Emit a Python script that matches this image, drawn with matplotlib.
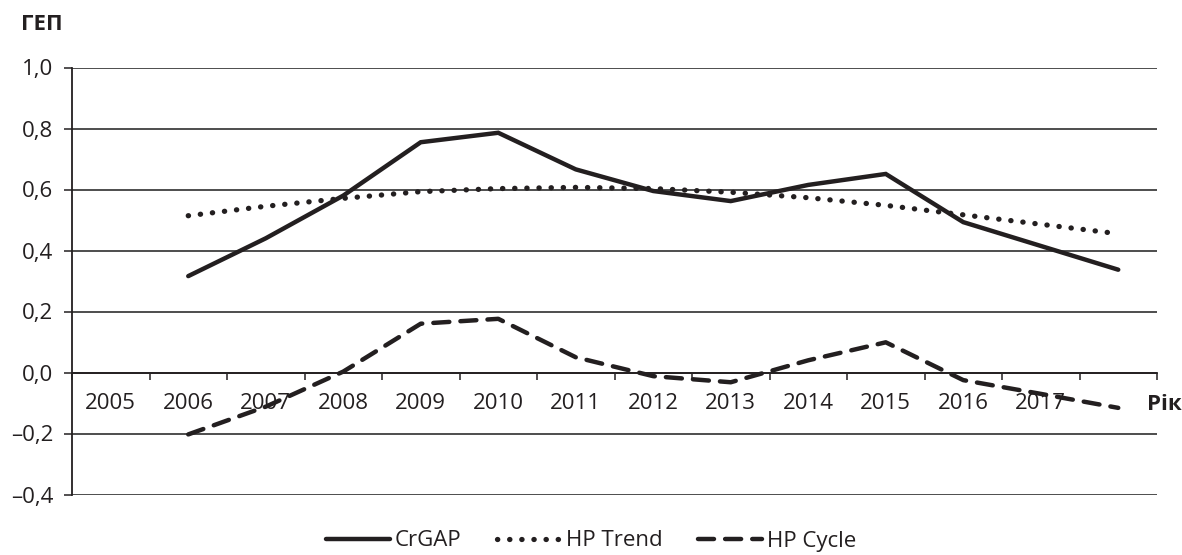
import numpy as np
import matplotlib
matplotlib.use("Agg")
import matplotlib.pyplot as plt
from matplotlib.ticker import FixedLocator, FuncFormatter

# categories on the x axis (the last slot has no label)
years = ['2005', '2006', '2007', '2008', '2009', '2010', '2011', '2012',
         '2013', '2014', '2015', '2016', '2017', '']
# series start at the 2006 slot
crgap = [0.316, 0.44, 0.58, 0.755, 0.786, 0.666, 0.595, 0.562, 0.615, 0.651,
         0.493, 0.415, 0.337]
hp_trend = [0.514, 0.545, 0.571, 0.593, 0.603, 0.607, 0.603, 0.591, 0.573,
            0.548, 0.517, 0.486, 0.455]
hp_cycle = [-0.203, -0.112, 0.003, 0.16, 0.176, 0.05, -0.012, -0.032, 0.04,
            0.099, -0.025, -0.07, -0.116]
yticks = [-0.4, -0.2, 0.0, 0.2, 0.4, 0.6, 0.8, 1.0]

plt.rcParams['font.family'] = ['Open Sans', 'DejaVu Sans']
FS = 16

fig = plt.figure(figsize=(11.82, 5.55), dpi=100)
ax = fig.add_axes([72 / 1182, 1 - 494.5 / 555, (1157 - 72) / 1182, (494.5 - 67.5) / 555])

x = np.arange(1, 1 + len(crgap))
ink = '#231f20'
ax.plot(x, crgap, color=ink, lw=3.2, solid_capstyle='round', solid_joinstyle='miter',
        label='CrGAP', zorder=3)
ax.plot(x, hp_trend, color=ink, lw=3.8, linestyle=(0, (0.05, 2.25)),
        dash_capstyle='round', label='HP Trend', zorder=3)
ax.plot(x, hp_cycle, color=ink, lw=3.2, linestyle=(0, (3.6, 2.5)),
        dash_capstyle='round', label='HP Cycle', zorder=3)

ax.set_xlim(-0.5, len(years) - 0.5)
ax.set_ylim(-0.4, 1.0)

# y axis
ax.set_yticks(yticks)
ax.yaxis.set_major_formatter(FuncFormatter(
    lambda v, p: ('%.1f' % v).replace('.', ',').replace('-', '\u2013')))
ax.tick_params(axis='y', direction='out', length=5.5, width=1.1, color=ink,
               pad=8, labelsize=FS, labelcolor=ink)
ax.yaxis.grid(True, color='#4d4d4d', lw=1.4)
ax.set_axisbelow(True)

# category axis crossing at zero
for s in ['top', 'right']:
    ax.spines[s].set_visible(False)
ax.spines['left'].set_color(ink)
ax.spines['left'].set_linewidth(1.3)
ax.spines['bottom'].set_position(('data', 0))
ax.spines['bottom'].set_color(ink)
ax.spines['bottom'].set_linewidth(1.3)
ax.xaxis.set_major_locator(FixedLocator(np.arange(-0.5, len(years), 1.0)))
ax.xaxis.set_major_formatter(FuncFormatter(lambda v, p: ''))
ax.xaxis.set_minor_locator(FixedLocator(np.arange(len(years))))
ax.set_xticklabels(years, minor=True)
ax.tick_params(axis='x', which='major', direction='out', length=5, width=1.1, color=ink)
ax.tick_params(axis='x', which='minor', length=0, pad=15, labelsize=FS, labelcolor=ink)

fig.text(21 / 1182, 1 - 25 / 555, 'ГЕП', ha='left', va='center', fontsize=FS,
         fontweight='bold', color=ink)
fig.text(1147 / 1182, 1 - 405 / 555, 'Рік', ha='left', va='center', fontsize=FS,
         fontweight='bold', color=ink)

fig.legend(loc='center', bbox_to_anchor=(0.5, 1 - 541 / 555), ncol=3, frameon=False,
           fontsize=FS, handlelength=2.9, handletextpad=0.2, columnspacing=1.6,
           labelcolor=ink)

fig.savefig('out.png', dpi=100)
